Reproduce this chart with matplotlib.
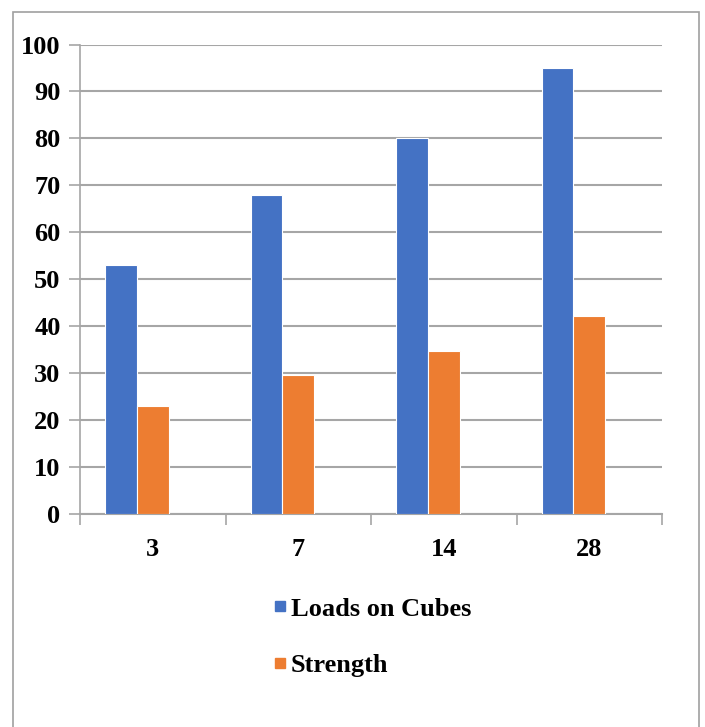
import matplotlib
matplotlib.use("Agg")
import matplotlib.pyplot as plt
from matplotlib.lines import Line2D
from matplotlib.patches import Rectangle
import numpy as np

categories = ["3", "7", "14", "28"]
loads_on_cubes = [53, 68, 80, 95]
strength = [23.0, 29.6, 34.8, 42.2]
y_ticks = [0, 10, 20, 30, 40, 50, 60, 70, 80, 90, 100]

blue = "#4472C4"
orange = "#ED7D31"
grid_gray = "#A6A6A6"

W, H = 705, 727
fig = plt.figure(figsize=(W / 100, H / 100), dpi=100)
fig.patch.set_facecolor("white")

# outer frame around the chart
fig.add_artist(Rectangle((13 / W, -0.01), (699 - 13) / W, 1 - 12 / H + 0.01,
                         transform=fig.transFigure, fill=False,
                         edgecolor="#A0A0A0", linewidth=1.2))

ax = fig.add_axes([80 / W, (H - 514) / H, 582 / W, 469.5 / H])
x = np.arange(len(categories))
w = 0.2165
ax.bar(x - w, loads_on_cubes, width=w, color=blue, edgecolor="white",
       linewidth=0.8, zorder=3, label="Loads on Cubes")
ax.bar(x, strength, width=w, color=orange, edgecolor="white",
       linewidth=0.8, zorder=3, label="Strength")

ax.set_xlim(-0.5, len(categories) - 0.5)
ax.set_ylim(0, 100)
ax.set_yticks(y_ticks)
ax.set_yticklabels([str(t) for t in y_ticks])
ax.yaxis.grid(True, color=grid_gray, linewidth=1.5, zorder=0)
ax.set_axisbelow(True)

# category boundary ticks on x axis, labels in the middle
ax.set_xticks(np.arange(-0.5, len(categories), 1.0))
ax.set_xticklabels([])
ax.set_xticks(x, minor=True)
ax.set_xticklabels(categories, minor=True)
ax.tick_params(axis="x", which="major", length=8, width=1.2, color=grid_gray)
ax.tick_params(axis="x", which="minor", length=0, pad=17)
ax.tick_params(axis="y", length=8, width=1.2, color=grid_gray, pad=6)

font = {"family": "Liberation Serif", "weight": "bold", "size": 19}
for lab in ax.get_yticklabels() + ax.get_xticklabels(minor=True):
    lab.set_fontfamily("Liberation Serif")
    lab.set_fontweight("bold")
    lab.set_fontsize(19)

for side in ["top", "right"]:
    ax.spines[side].set_visible(False)
ax.spines["left"].set_color(grid_gray)
ax.spines["left"].set_linewidth(1.2)
ax.spines["bottom"].set_color(grid_gray)
ax.spines["bottom"].set_linewidth(1.5)

handles = [Line2D([], [], marker="s", linestyle="none", markersize=7.5,
                  markerfacecolor=blue, markeredgecolor=blue),
           Line2D([], [], marker="s", linestyle="none", markersize=7.5,
                  markerfacecolor=orange, markeredgecolor=orange)]
fig.legend(handles, ["Loads on Cubes", "Strength"], loc="upper left",
           bbox_to_anchor=(259 / W, 1 - 584 / H), frameon=False,
           borderpad=0, handlelength=0.6, handletextpad=0.1,
           labelspacing=1.25, prop=font)

fig.savefig("out.png", dpi=100)
